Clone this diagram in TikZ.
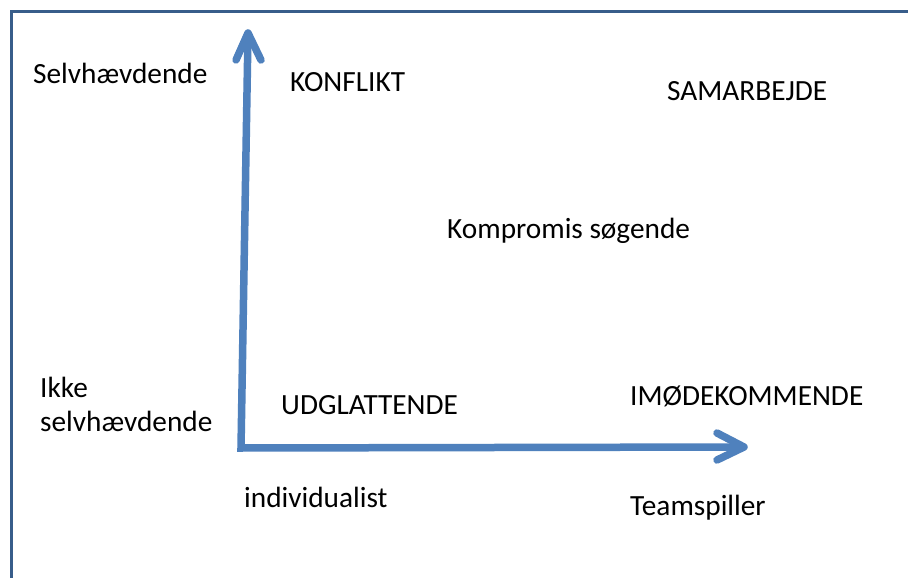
\documentclass[tikz,border=0pt]{standalone}
\usepackage{fontspec}
\setmainfont{Carlito}
\usetikzlibrary{calc}
\definecolor{framecol}{HTML}{385D8A}
\definecolor{axiscol}{HTML}{4F81BD}
\tikzset{
  lbl/.style={anchor=west, inner sep=0pt, font=\fontsize{29.3}{34}\selectfont, text=black},
  axisline/.style={draw=axiscol, line width=7.5pt},
  barb/.style={draw=axiscol, line width=7.5pt, line cap=round, line join=round}
}
\begin{document}
\begin{tikzpicture}[x=1pt,y=-1pt]
  \useasboundingbox (0,0) rectangle (908,578);
  \fill[white] (0,0) rectangle (908,578);
  % outer frame, running off the right and bottom edges
  \begin{scope}
    \clip (0,0) rectangle (908,578);
    \draw[framecol, line width=3pt] (11,12) rectangle (930,600);
  \end{scope}

  % axes
  \coordinate (origin) at (241,448);
  \coordinate (ytip) at (248,33);
  \coordinate (xtip) at (744,447);
  \draw[axisline, line join=miter] (ytip) -- (origin) -- (xtip);
  \draw[barb] ($(ytip)+(-12,27)$) -- (ytip) -- ($(ytip)+(13,27)$);
  \draw[barb] ($(xtip)+(-27,-14)$) -- (xtip) -- ($(xtip)+(-27,13)$);

  % labels
  \node[lbl] (selv) at (33,73) {Selvhævdende};
  \node[lbl] (konflikt) at (290,82) {KONFLIKT};
  \node[lbl] (samarb) at (667,91) {SAMARBEJDE};
  \node[lbl] (kompr) at (447,231) {Kompromis søgende};
  \node[lbl, align=left] (ikke) at (40,404) {Ikke\\selvhævdende};
  \node[lbl] (udgl) at (281,405) {UDGLATTENDE};
  \node[lbl] (imoede) at (630,396) {IMØDEKOMMENDE};
  \node[lbl] (indiv) at (244,497) {individualist};
  \node[lbl] (team) at (630,508) {Teamspiller};
\end{tikzpicture}
\end{document}
